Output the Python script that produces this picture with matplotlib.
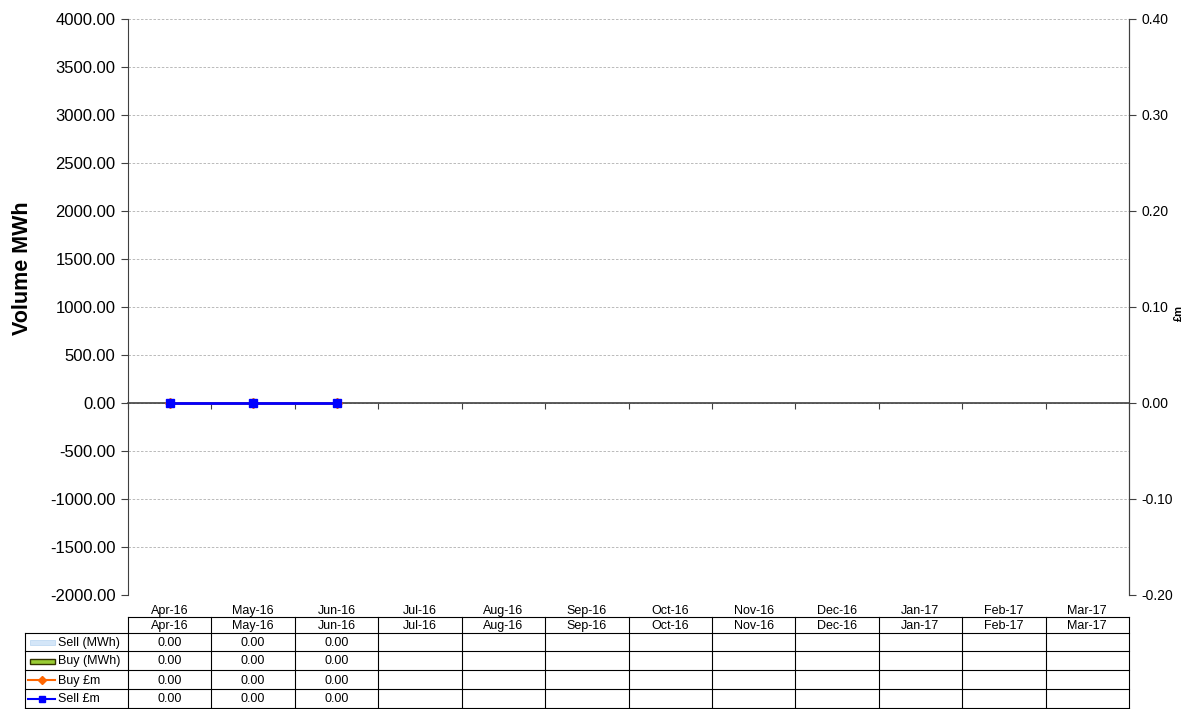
import matplotlib.pyplot as plt
from matplotlib.patches import Rectangle
import numpy as np

plt.rcParams['font.family'] = ['Liberation Sans', 'DejaVu Sans']

months = ['Apr-16', 'May-16', 'Jun-16', 'Jul-16', 'Aug-16', 'Sep-16',
          'Oct-16', 'Nov-16', 'Dec-16', 'Jan-17', 'Feb-17', 'Mar-17']
sell_mwh = [0.0, 0.0, 0.0]
buy_mwh = [0.0, 0.0, 0.0]
buy_gbp = [0.0, 0.0, 0.0]
sell_gbp = [0.0, 0.0, 0.0]

W, H = 1200, 709
fig = plt.figure(figsize=(W / 100, H / 100), dpi=100)

x0, x1, ytop, ybot = 128, 1129, 19, 595
ax = fig.add_axes([x0 / W, 1 - ybot / H, (x1 - x0) / W, (ybot - ytop) / H])
ax.set_xlim(-0.5, len(months) - 0.5)
ax.set_ylim(-2000, 4000)
ax.set_yticks(np.arange(-2000, 4001, 500))
ax.set_yticklabels(['%.2f' % v for v in np.arange(-2000, 4001, 500)], fontsize=12)
ax.grid(axis='y', color='#b0b0b0', linestyle=(0, (3, 2)), linewidth=0.6)
ax.set_axisbelow(True)
ax.spines['top'].set_visible(False)
ax.spines['bottom'].set_position(('data', 0))
ax.spines['bottom'].set_color('#404040')
ax.spines['bottom'].set_linewidth(1.2)
ax.spines['left'].set_color('#404040')
ax.spines['right'].set_color('#404040')
ax.set_xticks(np.arange(-0.5, len(months), 1.0))
ax.set_xticklabels([])
ax.tick_params(axis='x', direction='out', length=4, color='#404040')
ax.tick_params(axis='y', direction='out', length=5, color='#404040', pad=4)
ax.set_ylabel('Volume MWh', fontsize=15.5, fontweight='bold')
ax.yaxis.set_label_coords(-0.095, 0.568)

idx = np.arange(len(sell_mwh))
ax.bar(idx, sell_mwh, width=0.5, color='#cfe3f7', linewidth=0)
ax.bar(idx, buy_mwh, width=0.5, color='#99cc33', linewidth=0)

ax2 = ax.twinx()
ax2.set_ylim(-0.2, 0.4)
ax2.set_yticks(np.arange(-0.2, 0.41, 0.1))
ax2.set_yticklabels(['%.2f' % v for v in np.arange(-0.2, 0.41, 0.1)], fontsize=10)
ax2.tick_params(axis='y', direction='out', length=5, color='#404040', pad=4)
for s in ['top', 'bottom', 'left']:
    ax2.spines[s].set_visible(False)
ax2.spines['right'].set_color('#404040')
ax2.set_ylabel('£m', fontsize=8, fontweight='bold')
ax2.yaxis.set_label_coords(1.045, 0.49)
ax2.plot(idx, buy_gbp, color='#ff6600', marker='D', markersize=5, linewidth=2)
ax2.plot(idx, sell_gbp, color='#0000ff', marker='s', markersize=6, linewidth=2)

# data table under the chart
tb = fig.add_axes([0, 0, 1, 1], zorder=-1)
tb.set_xlim(0, W)
tb.set_ylim(H, 0)
tb.axis('off')

cw = (x1 - x0) / len(months)
rows_y = [617, 633, 651, 670, 689, 708]
lc = '#000000'
for i, m in enumerate(months):
    cx = round(x0 + (i + 0.5) * cw)
    tb.text(cx, 614, m, ha='center', va='baseline', fontsize=9)
    tb.text(cx, 629, m, ha='center', va='baseline', fontsize=9)
tb.plot([x0, x1], [617, 617], color=lc, lw=0.8)
for y in rows_y[1:]:
    tb.plot([25, x1], [y, y], color=lc, lw=0.8)
for i in range(len(months) + 1):
    xx = x0 + i * cw
    tb.plot([xx, xx], [617, 708], color=lc, lw=0.8)
tb.plot([25, 25], [633, 708], color=lc, lw=0.8)

series = [('Sell (MWh)', sell_mwh), ('Buy (MWh)', buy_mwh),
          ('Buy £m', buy_gbp), ('Sell £m', sell_gbp)]
for r, (name, vals) in enumerate(series):
    yb = round((rows_y[r + 1] + rows_y[r + 2]) / 2 + 4)
    tb.text(57.5, yb, name, ha='left', va='baseline', fontsize=9)
    for i, v in enumerate(vals):
        tb.text(round(x0 + (i + 0.5) * cw), yb, '%.2f' % v, ha='center', va='baseline', fontsize=9)

# legend keys
tb.add_patch(Rectangle((29.5, 640), 25, 5, facecolor='#d4e6f8', edgecolor='#b8d4f0', lw=0.5))
tb.add_patch(Rectangle((29.5, 659), 25, 5, facecolor='#99cc33', edgecolor='#333300', lw=1))
tb.plot([28, 55], [680, 680], color='#ff6600', lw=1.5)
tb.plot([41.5], [680], marker='D', color='#ff6600', markersize=4)
tb.plot([28, 55], [699, 699], color='#0000ff', lw=1.5)
tb.plot([41.5], [699], marker='s', color='#0000ff', markersize=5)

fig.savefig('out.png', dpi=100)
